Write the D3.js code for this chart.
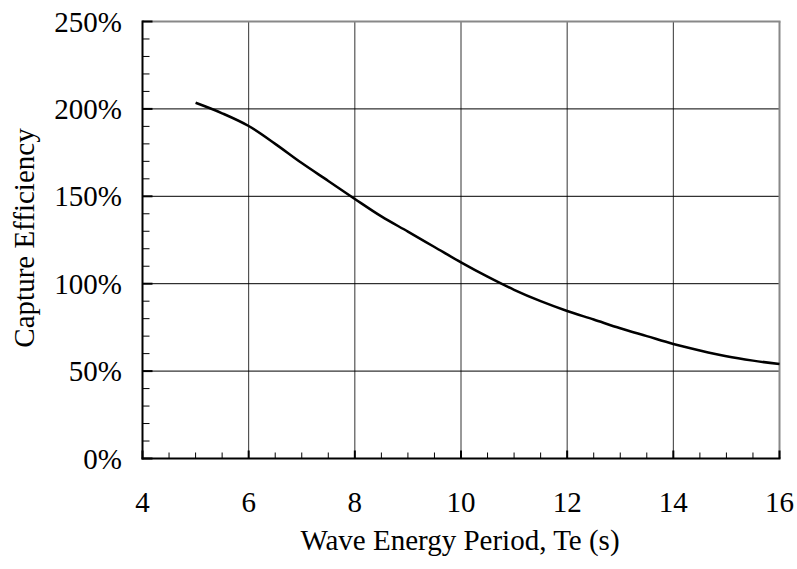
<!DOCTYPE html>
<html><head><meta charset="utf-8">
<script src="https://cdn.jsdelivr.net/npm/d3@7"></script>
<style>body{margin:0;background:#fff}svg{display:block}text{font-family:"Liberation Serif","Times New Roman","DejaVu Serif",serif;fill:#000}</style>
</head><body>
<script>
const periods = [5, 5.5, 6, 6.5, 7, 7.5, 8, 8.5, 9, 9.5, 10, 10.5, 11, 11.5, 12, 12.5, 13, 13.5, 14, 14.5, 15, 15.5, 16];
const efficiency = [203.5, 197.5, 190.2, 180, 169, 158.8, 148.5, 138.5, 129.8, 121, 112.2, 104, 96.5, 90, 84.4, 79.5, 74.5, 70, 65.5, 61.8, 58.5, 56, 54];
const xTicks = [4, 6, 8, 10, 12, 14, 16];
const yTicks = [0, 50, 100, 150, 200, 250];
const xTitle = "Wave Energy Period, Te (s)";
const yTitle = "Capture Efficiency";

const W = 797, H = 569;
const L = 142.5, R = 779.5, T = 21.5, B = 458.5;
const FS = 29;
const svg = d3.select("body").append("svg").attr("width", W).attr("height", H);
const x = d3.scaleLinear().domain([4, 16]).range([L, R]);
const y = d3.scaleLinear().domain([0, 250]).range([B, T]);

// gridlines
svg.append("g").selectAll("line").data(xTicks.filter(d => d > 4 && d < 16)).join("line")
  .attr("x1", d => x(d)).attr("x2", d => x(d)).attr("y1", T).attr("y2", B)
  .attr("stroke", "#333").attr("stroke-width", 1);
svg.append("g").selectAll("line").data(yTicks.filter(d => d > 0 && d < 250)).join("line")
  .attr("x1", L).attr("x2", R).attr("y1", d => y(d)).attr("y2", d => y(d))
  .attr("stroke", "#000").attr("stroke-width", 1);

// top & right border (gray)
svg.append("line").attr("x1", L).attr("x2", R + 1).attr("y1", T).attr("y2", T).attr("stroke", "#888").attr("stroke-width", 2);
svg.append("line").attr("x1", R).attr("x2", R).attr("y1", T).attr("y2", B).attr("stroke", "#888").attr("stroke-width", 2);

// minor ticks
const xMinor = d3.range(4, 16.01, 0.5);
svg.append("g").selectAll("line").data(xMinor).join("line")
  .attr("x1", d => x(d)).attr("x2", d => x(d)).attr("y1", B).attr("y2", d => xTicks.includes(d) ? B - 8 : B - 6)
  .attr("stroke", "#000").attr("stroke-width", d => xTicks.includes(d) ? 2 : 1);
const yMinor = d3.range(0, 250.1, 10);
svg.append("g").selectAll("line").data(yMinor).join("line")
  .attr("x1", L).attr("x2", d => yTicks.includes(d) ? L + 10 : L + 7).attr("y1", d => y(d)).attr("y2", d => y(d))
  .attr("stroke", "#000").attr("stroke-width", d => yTicks.includes(d) ? 2 : 1);

// axes
svg.append("line").attr("x1", L).attr("x2", L).attr("y1", T - 1).attr("y2", B + 1).attr("stroke", "#000").attr("stroke-width", 2);
svg.append("line").attr("x1", L - 1).attr("x2", R + 1).attr("y1", B).attr("y2", B).attr("stroke", "#000").attr("stroke-width", 2);

// tick labels
svg.append("g").selectAll("text").data(xTicks).join("text")
  .attr("x", d => x(d)).attr("y", 511.5).attr("text-anchor", "middle").attr("font-size", FS).text(d => d);
svg.append("g").selectAll("text").data(yTicks).join("text")
  .attr("x", 122).attr("y", d => y(d) + 10).attr("text-anchor", "end").attr("font-size", FS).text(d => d + "%");

// titles
svg.append("text").attr("x", 460).attr("y", 550).attr("text-anchor", "middle").attr("font-size", FS).text(xTitle);
svg.append("text").attr("transform", "translate(34,238) rotate(-90)").attr("text-anchor", "middle").attr("font-size", FS).text(yTitle);

// curve
const data = periods.map((p, i) => [p, efficiency[i]]);
svg.append("path").datum(data)
  .attr("d", d3.line().x(d => x(d[0])).y(d => y(d[1])).curve(d3.curveMonotoneX))
  .attr("fill", "none").attr("stroke", "#000").attr("stroke-width", 2.5);
</script>
</body></html>
